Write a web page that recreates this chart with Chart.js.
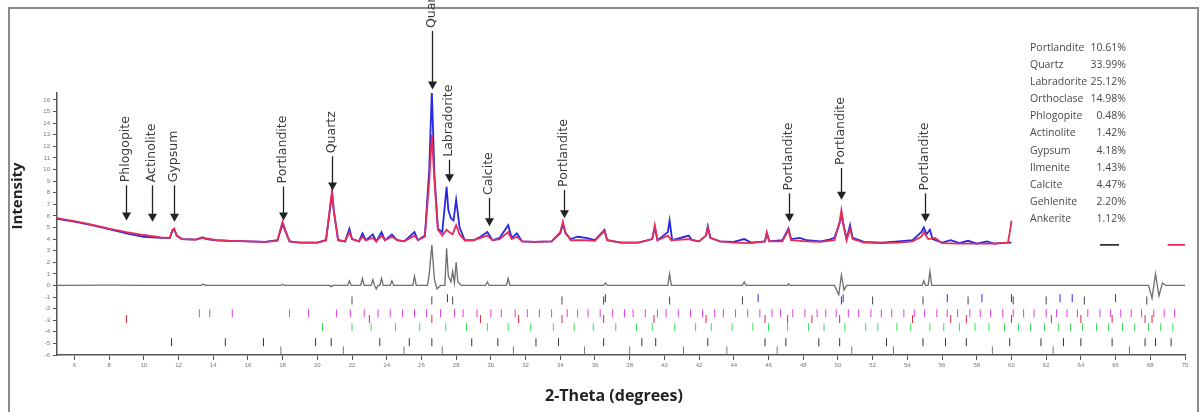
<!DOCTYPE html>
<html>
<head>
<meta charset="utf-8">
<script src="https://cdn.jsdelivr.net/npm/chart.js@4.4.1/dist/chart.umd.min.js"></script>
<style>
    html, body { margin: 0; padding: 0; background: #fff; }
    canvas { display: block; }
</style>
</head>
<body>
<canvas id="xrdChart" width="1204" height="412"></canvas>
<script>
// observed / calculated pattern, [2-theta, intensity]
const observed = [
    [5.0,5.75],[6.0,5.5],[7.0,5.2],[8.0,4.85],[9.0,4.5],[9.5,4.35],[10.0,4.2],[10.5,4.15],[11.0,4.1],[11.5,4.1],
    [11.65,4.7],[11.75,4.85],[11.9,4.3],[12.2,4.0],[13.0,3.95],[13.4,4.15],[13.6,4.0],[14.2,3.9],[15.0,3.85],[16.0,3.8],
    [17.0,3.75],[17.7,3.9],[17.9,4.8],[18.0,5.3],[18.15,4.7],[18.4,3.8],[19.0,3.7],[20.0,3.7],[20.5,3.9],[20.75,6.8],
    [20.85,8.0],[20.95,6.4],[21.2,3.9],[21.6,3.8],[21.85,4.9],[22.0,4.0],[22.4,3.8],[22.6,4.5],[22.8,3.9],[23.2,4.4],
    [23.4,3.8],[23.7,4.6],[23.9,3.9],[24.3,4.4],[24.6,3.9],[25.0,3.8],[25.6,4.6],[25.8,3.9],[26.2,4.3],[26.45,10.0],
    [26.6,16.8],[26.75,9.5],[26.95,4.9],[27.2,4.6],[27.45,8.5],[27.55,6.5],[27.7,5.8],[27.85,5.6],[28.0,7.4],[28.2,5.0],
    [28.5,3.9],[29.0,3.9],[29.4,4.2],[29.8,4.6],[30.1,3.9],[30.5,4.1],[31.0,5.2],[31.2,4.1],[31.5,4.5],[31.8,3.8],
    [32.5,3.75],[33.5,3.8],[34.0,4.5],[34.15,5.3],[34.3,4.5],[34.6,4.0],[35.0,4.2],[35.5,4.1],[36.0,3.9],[36.55,4.8],
    [36.7,3.9],[37.5,3.7],[38.5,3.7],[39.3,4.0],[39.45,5.0],[39.6,3.9],[40.2,4.6],[40.3,5.6],[40.45,3.9],[41.4,4.3],
    [41.6,3.9],[42.0,3.8],[42.4,4.3],[42.5,5.1],[42.65,4.1],[43.2,3.8],[44.0,3.75],[44.6,4.0],[45.0,3.7],[45.8,3.8],
    [45.9,4.5],[46.05,3.8],[46.8,3.9],[47.15,4.9],[47.3,4.0],[47.8,4.1],[48.2,3.9],[49.0,3.8],[49.5,3.95],[49.8,4.1],
    [50.1,5.4],[50.2,6.1],[50.35,5.0],[50.5,4.0],[50.7,5.2],[50.85,4.1],[51.5,3.75],[52.5,3.7],[53.5,3.8],[54.3,3.9],
    [54.8,4.6],[54.95,5.0],[55.1,4.4],[55.3,4.8],[55.45,4.0],[56.0,3.7],[56.5,3.9],[57.0,3.65],[57.5,3.85],[58.0,3.6],
    [58.6,3.8],[59.0,3.6],[59.8,3.7],[60.0,3.7]
];
const calculated = [
    [5.0,5.8],[6.0,5.55],[7.0,5.25],[8.0,4.9],[9.0,4.6],[10.0,4.35],[11.0,4.15],[11.5,4.1],[11.65,4.8],[11.75,4.9],
    [11.9,4.3],[12.2,4.0],[13.0,3.95],[13.4,4.1],[13.6,4.05],[14.2,3.9],[15.0,3.85],[16.0,3.8],[17.0,3.75],[17.7,3.85],
    [17.9,5.0],[18.0,5.5],[18.15,4.8],[18.4,3.8],[19.0,3.7],[20.0,3.7],[20.5,3.9],[20.75,7.0],[20.85,8.2],[20.95,6.5],
    [21.2,3.9],[21.6,3.8],[21.85,4.6],[22.0,4.0],[22.4,3.8],[22.6,4.2],[22.8,3.9],[23.2,4.1],[23.4,3.8],[23.7,4.3],
    [23.9,3.9],[24.3,4.2],[24.6,3.9],[25.0,3.8],[25.6,4.3],[25.8,3.9],[26.2,4.2],[26.45,9.0],[26.6,13.0],[26.75,9.0],
    [26.95,4.8],[27.2,4.3],[27.45,4.8],[27.6,4.6],[27.8,4.4],[28.0,5.2],[28.2,4.4],[28.5,3.9],[29.0,3.9],[29.4,4.1],
    [29.8,4.3],[30.1,3.9],[30.5,4.0],[31.0,4.6],[31.2,4.0],[31.5,4.2],[31.8,3.8],[32.5,3.75],[33.5,3.8],[34.0,4.6],
    [34.15,5.5],[34.3,4.6],[34.6,3.9],[35.5,3.9],[36.0,3.85],[36.55,4.7],[36.7,3.9],[37.5,3.7],[38.5,3.7],[39.3,4.0],
    [39.45,5.2],[39.6,3.9],[40.2,4.3],[40.4,3.9],[41.4,4.0],[42.0,3.8],[42.4,4.3],[42.5,5.0],[42.65,4.1],[43.2,3.8],
    [44.0,3.7],[45.0,3.65],[45.8,3.8],[45.9,4.6],[46.05,3.8],[46.8,3.8],[47.15,4.8],[47.3,3.9],[48.2,3.8],[49.0,3.75],
    [49.8,3.9],[50.1,5.5],[50.2,6.5],[50.35,5.0],[50.5,3.9],[50.7,4.9],[50.85,4.0],[51.5,3.7],[52.5,3.65],[53.5,3.7],
    [54.3,3.8],[54.8,4.2],[54.95,4.6],[55.2,4.0],[55.6,4.1],[56.0,3.65],[57.0,3.6],[58.0,3.6],[59.0,3.6],[59.8,3.7],
    [59.95,5.0],[60.0,5.6]
];
const difference = [
    [5.0,0],[8.0,0.03],[10.0,0],[13.3,0],[13.4,0.1],[13.6,0],[17.9,0],[18.0,0.1],[18.1,0],[20.7,0],[20.8,-0.1],[20.9,0],
    [21.75,0],[21.85,0.4],[21.95,0],[22.5,0],[22.6,0.6],[22.7,0],[23.1,0],[23.2,0.5],[23.3,0],[23.4,-0.3],[23.5,0],
    [23.6,0],[23.7,0.6],[23.8,0],[24.2,0],[24.3,0.4],[24.4,0],[25.5,0],[25.6,0.8],[25.7,0],[26.35,0],[26.45,1.0],
    [26.6,3.5],[26.75,0.5],[26.9,-0.3],[27.1,0],[27.35,0],[27.45,3.2],[27.55,0.8],[27.7,0.3],[27.8,1.2],[27.9,0.2],
    [28.0,2.0],[28.1,0.3],[28.3,0],[29.7,0],[29.8,0.3],[29.9,0],[30.9,0],[31.0,0.6],[31.1,0],[36.5,0],[36.6,0.2],
    [36.7,0],[40.2,0],[40.3,1.0],[40.4,0],[44.5,0],[44.6,0.3],[44.7,0],[47.1,0],[47.15,0.15],[47.25,0],[49.8,0],
    [50.05,-0.8],[50.2,0.9],[50.35,-0.4],[50.5,0],[54.85,0],[54.95,0.4],[55.05,0],[55.2,0],[55.3,1.2],[55.4,0],
    [60.0,0],[65.0,0],[67.9,0],[68.1,-1.1],[68.3,1.0],[68.5,-0.9],[68.7,0.2],[68.9,0],[70.0,0]
];
// short line samples at the right edge
const sampleDark = [[65.1,3.5],[66.2,3.5]];
const sampleCalc = [[69.0,3.5],[70.0,3.5]];

// reflection markers, 2-theta per phase row
const rowMagenta = [13.2,13.8,15.1,18.4,19.5,21.1,21.9,22.7,23.5,24.2,24.9,25.6,26.3,27.1,27.9,28.4,29.2,30.0,30.6,31.4,32.1,32.8,33.5,34.4,35.0,35.6,36.3,37.0,37.7,38.2,38.9,39.6,40.1,40.8,41.5,42.2,42.9,43.4,44.1,44.8,45.5,46.2,46.7,47.4,48.1,48.8,49.3,49.9,50.6,51.2,51.9,52.5,53.1,53.8,54.4,55.0,55.7,56.3,56.9,57.6,58.2,58.8,59.5,60.1,60.7,61.3,62.0,62.6,63.2,63.8,64.4,65.1,65.7,66.3,66.9,67.5,68.2,68.8,69.4];
const rowGreen = [20.3,22.0,23.1,24.5,25.9,27.4,28.6,29.8,31.0,32.3,33.6,34.8,35.9,37.2,38.4,39.3,40.6,41.8,42.7,43.9,45.1,46.0,47.1,48.3,49.2,50.4,51.6,52.3,53.4,54.2,55.3,56.1,57.0,57.9,58.7,59.6,60.4,61.1,61.9,62.7,63.4,64.1,64.9,65.6,66.4,67.1,67.9,68.6,69.3];
const rowRed = [9.0,23.0,26.6,29.4,31.6,34.1,36.5,39.4,42.4,45.8,47.1,48.5,50.1,54.3,56.5,57.4,60.0,62.3,64.0,65.8,67.7,68.1];
const rowBlue = [27.5,36.6,45.4,50.3,56.3,58.3,60.0,62.8,63.5,66.0];
const rowTop = [22.0,26.6,27.8,34.1,36.5,40.3,44.5,50.2,52.0,54.9,57.5,60.1,62.0,64.2,67.8];
const rowBlack = [11.6,14.7,16.9,19.9,20.8,23.6,25.3,26.6,28.9,30.4,32.6,33.9,36.5,38.7,39.5,42.5,45.8,47.0,48.9,50.1,52.8,54.9,56.2,57.4,59.9,61.7,63.0,64.0,65.8,67.7,68.3,69.2];
const rowGray = [17.9,21.5,25.0,27.2,31.3,35.4,38.0,41.1,43.6,46.5,50.8,53.2,58.9,62.4,66.8];
const rowLevels = { top: -1.3, blue: -1.1, magenta: -2.4, red: -2.9, green: -3.6, black: -4.9, gray: -5.6 };

const xTicks = [6,8,10,12,14,16,18,20,22,24,26,28,30,32,34,36,38,40,42,44,46,48,50,52,54,56,58,60,62,64,66,68,70];
const yTicks = [-6,-5,-4,-3,-2,-1,0,1,2,3,4,5,6,7,8,9,10,11,12,13,14,15,16];

// peak labels: name, 2-theta, intensity where text ends, arrow tip intensity
const peakNames = ['Phlogopite','Actinolite','Gypsum','Portlandite','Quartz','Quartz','Labradorite','Calcite','Portlandite','Portlandite','Portlandite','Portlandite'];
const peakTheta = [9.0,10.5,11.75,18.0,20.85,26.6,27.6,29.9,34.2,47.2,50.2,55.0];
const peakTextEnd = [8.9,8.9,8.9,8.8,11.4,22.2,11.1,7.8,8.5,8.2,10.4,8.2];
const peakTip = [5.6,5.5,5.5,5.6,8.2,16.9,8.9,5.1,5.8,5.5,7.4,5.5];

const phaseNames = ['Portlandite','Quartz','Labradorite','Orthoclase','Phlogopite','Actinolite','Gypsum','Ilmenite','Calcite','Gehlenite','Ankerite'];
const phasePercent = ['10.61%','33.99%','25.12%','14.98%','0.48%','1.42%','4.18%','1.43%','4.47%','2.20%','1.12%'];

(function () {
    'use strict';

    const canvas = document.getElementById('xrdChart');
    if (!canvas) return;

    function toPoints(arr) {
        return arr.map(p => ({ x: p[0], y: p[1] }));
    }

    function markers(list, level) {
        return list.map(v => ({ x: v, y: level }));
    }

    function lineSet(label, arr, color, width) {
        return {
            label: label,
            data: toPoints(arr),
            showLine: true,
            borderColor: color,
            borderWidth: width,
            pointRadius: 0,
            tension: 0
        };
    }

    function markerSet(label, list, level, color) {
        return {
            label: label,
            data: markers(list, level),
            showLine: false,
            pointStyle: 'line',
            rotation: 90,
            pointRadius: 4,
            borderColor: color,
            borderWidth: 1
        };
    }

    const framePlugin = {
        id: 'frame',
        beforeDraw(chart) {
            const ctx = chart.ctx;
            ctx.save();
            ctx.fillStyle = '#fff';
            ctx.fillRect(0, 0, chart.width, chart.height);
            ctx.strokeStyle = '#8c8c8c';
            ctx.lineWidth = 2;
            ctx.strokeRect(9, 8, 1189, 408);
            ctx.restore();
        }
    };

    const annotatePlugin = {
        id: 'annotate',
        afterDraw(chart) {
            const ctx = chart.ctx;
            const xs = chart.scales.x;
            const ys = chart.scales.y;
            ctx.save();

            // peak labels with arrows
            peakNames.forEach((name, i) => {
                const px = Math.round(xs.getPixelForValue(peakTheta[i])) + 0.5;
                const yEnd = ys.getPixelForValue(peakTextEnd[i]);
                const yTip = ys.getPixelForValue(peakTip[i]);
                ctx.strokeStyle = '#222';
                ctx.fillStyle = '#222';
                ctx.lineWidth = 1.3;
                ctx.beginPath();
                ctx.moveTo(px, yEnd + 3);
                ctx.lineTo(px, yTip - 6);
                ctx.stroke();
                ctx.beginPath();
                ctx.moveTo(px - 4.5, yTip - 8);
                ctx.lineTo(px + 4.5, yTip - 8);
                ctx.lineTo(px, yTip);
                ctx.closePath();
                ctx.fill();

                ctx.save();
                ctx.translate(px - 1, yEnd);
                ctx.rotate(-Math.PI / 2);
                ctx.fillStyle = '#3a3a3a';
                ctx.font = '12.5px "DejaVu Sans"';
                ctx.textAlign = 'left';
                ctx.textBaseline = 'middle';
                ctx.fillText(name, 0, 0);
                ctx.restore();
            });

            // phase fractions
            ctx.font = '10.5px "Open Sans"';
            ctx.fillStyle = '#4a4a4a';
            ctx.textBaseline = 'middle';
            phaseNames.forEach((name, i) => {
                const py = 48 + i * 17.1;
                ctx.textAlign = 'left';
                ctx.fillText(name, 1030, py);
                ctx.textAlign = 'right';
                ctx.fillText(phasePercent[i], 1126, py);
            });

            // axis titles
            ctx.fillStyle = '#222';
            ctx.font = 'bold 15px "Open Sans"';
            ctx.textAlign = 'center';
            ctx.textBaseline = 'middle';
            ctx.save();
            ctx.translate(18, 196);
            ctx.rotate(-Math.PI / 2);
            ctx.fillText('Intensity', 0, 0);
            ctx.restore();
            ctx.font = 'bold 16px "Open Sans"';
            ctx.fillText('2-Theta (degrees)', 614, 396);

            ctx.restore();
        }
    };

    new Chart(canvas.getContext('2d'), {
        type: 'scatter',
        data: {
            datasets: [
                lineSet('Calculated', calculated, 'rgb(232, 44, 88)', 1.8),
                lineSet('Observed', observed, 'rgb(40, 40, 225)', 1.8),
                lineSet('Difference', difference, '#6e6e6e', 1.3),
                lineSet('Sample 1', sampleDark, '#333', 1.8),
                lineSet('Sample 2', sampleCalc, 'rgb(232, 44, 88)', 1.8),
                markerSet('Top', rowTop, rowLevels.top, '#444'),
                markerSet('Blue', rowBlue, rowLevels.blue, 'rgb(40, 40, 225)'),
                markerSet('Magenta', rowMagenta, rowLevels.magenta, 'rgb(225, 60, 225)'),
                markerSet('Red', rowRed, rowLevels.red, 'rgb(220, 40, 60)'),
                markerSet('Green', rowGreen, rowLevels.green, 'rgb(60, 220, 90)'),
                markerSet('Black', rowBlack, rowLevels.black, '#333'),
                markerSet('Gray', rowGray, rowLevels.gray, '#777')
            ]
        },
        options: {
            responsive: false,
            animation: false,
            devicePixelRatio: 1,
            layout: { padding: { top: 93, right: 19, left: 0, bottom: 0 } },
            plugins: {
                legend: { display: false },
                tooltip: { enabled: false }
            },
            scales: {
                x: {
                    type: 'linear',
                    min: 5,
                    max: 70,
                    afterBuildTicks: scale => { scale.ticks = xTicks.map(v => ({ value: v })); },
                    afterFit: scale => { scale.height = 57; },
                    ticks: { autoSkip: false, maxRotation: 0, color: '#777', font: { size: 6 }, padding: 2 },
                    grid: { drawOnChartArea: false, drawTicks: true, tickLength: 5, color: '#555' },
                    border: { color: '#555', width: 1.5 }
                },
                y: {
                    min: -6,
                    max: 16.6,
                    afterBuildTicks: scale => { scale.ticks = yTicks.map(v => ({ value: v })); },
                    afterFit: scale => { scale.width = 57; },
                    ticks: { autoSkip: false, color: '#777', font: { size: 6 }, padding: 3 },
                    grid: { drawOnChartArea: false, drawTicks: true, tickLength: 4, color: '#555' },
                    border: { color: '#555', width: 1.5 }
                }
            }
        },
        plugins: [framePlugin, annotatePlugin]
    });
})();
</script>
</body>
</html>
